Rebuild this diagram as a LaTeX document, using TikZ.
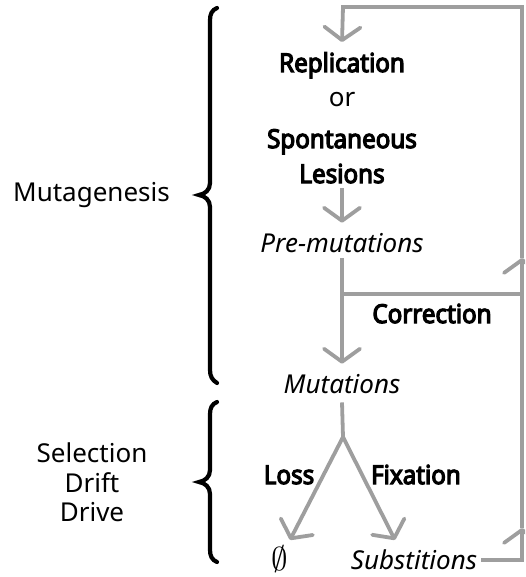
\documentclass[tikz,border=0pt]{standalone}
\usepackage{fontspec}
\setmainfont{Noto Sans}
\newfontfamily\nsbold{Noto Sans}[FakeBold=4.5, FakeStretch=0.93]
\usetikzlibrary{arrows.meta}
\definecolor{linegray}{RGB}{158,158,158}
\begin{document}
\begin{tikzpicture}[x=1pt,y=-1pt,
  flow/.style={draw=linegray, line width=3.8pt},
  arr/.style={flow, -{Straight Barb[length=13pt,width=36pt,line width=3.8pt,round]}},
  lbl/.style={font=\fontsize{26}{30}\selectfont, inner sep=0pt, anchor=base},
  bl/.style={lbl, font=\fontsize{26}{30}\selectfont\nsbold},
  it/.style={lbl, font=\fontsize{26}{30}\selectfont\itshape},
  brace/.style={draw=black, line width=4.2pt, line cap=round}]
\useasboundingbox (0,0) rectangle (525,577);
\clip (0,0) rectangle (525,577);
% texts
\node[bl] (rep) at (342,72) {Replication};
\node[lbl] (or) at (342,107) {or};
\node[bl] (spon) at (342,148) {Spontaneous};
\node[bl] (les) at (342,183) {Lesions};
\node[it] (pre) at (342,252) {Pre-mutations};
\node[bl] (cor) at (432,323) {Correction};
\node[it] (mut) at (342,393) {Mutations};
\node[bl] (loss) at (289,484) {Loss};
\node[bl] (fix) at (416,484) {Fixation};
\node[inner sep=0pt, anchor=base] (empty) at (280,570) {\scalebox{3.3}{$\emptyset$}};
\node[it] (sub) at (414,569) {Substitions};
\node[lbl] (mg) at (91.5,201.7) {Mutagenesis};
\node[lbl] (sel) at (92,462) {Selection};
\node[lbl] (drift) at (92,492) {Drift};
\node[lbl] (drive) at (92,521) {Drive};
% coordinates
\coordinate (TL) at (343,7);
\coordinate (CL) at (343,294);
\coordinate (CR) at (522,294);
\coordinate (up1) at (522,258);
\coordinate (up2) at (522,528);
\coordinate (BP) at (343,437);
% connectors
\draw[arr] (up1) |- (TL) -- ([yshift=10pt]rep.north);
\draw[arr] ([yshift=-5pt]les.south) -- ([yshift=10pt]pre.north);
\draw[arr] ([yshift=-6pt]pre.south) -- ([yshift=10pt]mut.north);
\draw[arr] (CL) -| (up1);
\draw[flow] (up2) -- (CR);
\draw[arr] ([xshift=4pt,yshift=-1pt]sub.east) -| (up2);
\draw[flow] ([yshift=-9pt]mut.south) -- (BP);
\draw[arr] (BP) -- (290,540) coordinate (lossend);
\draw[arr] (BP) -- (395,540) coordinate (fixend);
% braces
\draw[brace] (217,8) .. controls (212,10) and (210,14) .. (210,20) -- (210,183)
  .. controls (210,190) and (205,194) .. (199,195)
  .. controls (205,196) and (210,200) .. (210,207) -- (210,370)
  .. controls (210,376) and (212,380) .. (217,383);
\draw[brace] (217,402) .. controls (212,404) and (210,408) .. (210,414) -- (210,470)
  .. controls (210,477) and (205,481) .. (199,482)
  .. controls (205,483) and (210,487) .. (210,494) -- (210,550)
  .. controls (210,556) and (212,560) .. (217,562);
\end{tikzpicture}
\end{document}
